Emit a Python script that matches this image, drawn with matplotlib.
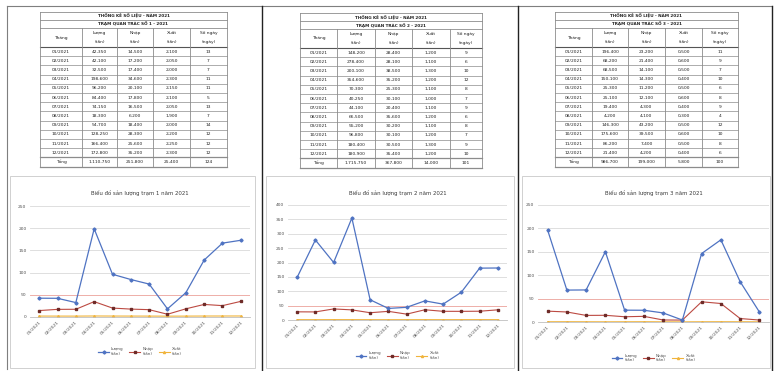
import matplotlib
matplotlib.use("Agg")
import matplotlib.pyplot as plt
from matplotlib.patches import Rectangle

W, H = 782, 371

months = ["01/2021", "02/2021", "03/2021", "04/2021", "05/2021", "06/2021",
          "07/2021", "08/2021", "09/2021", "10/2021", "11/2021", "12/2021"]

# station 1
luong_1 = [42.35, 42.10, 32.50, 198.60, 96.20, 84.40, 74.15, 18.30, 54.70, 128.25, 166.40, 172.80]
nhap_1 = [14.50, 17.20, 17.40, 34.60, 20.10, 17.80, 16.50, 6.20, 18.40, 28.30, 25.60, 35.20]
xuat_1 = [2.10, 2.05, 2.00, 2.30, 2.15, 2.10, 2.05, 1.90, 2.00, 2.20, 2.25, 2.30]
ngay_1 = [13, 7, 7, 11, 11, 5, 13, 7, 14, 12, 12, 12]

# station 2
luong_2 = [148.20, 278.40, 200.10, 354.60, 70.30, 40.25, 44.10, 66.50, 55.20, 96.80, 180.40, 180.90]
nhap_2 = [28.40, 28.10, 38.50, 35.20, 25.30, 30.10, 20.40, 35.60, 30.20, 30.10, 30.50, 35.40]
xuat_2 = [1.20, 1.10, 1.30, 1.20, 1.10, 1.00, 1.10, 1.20, 1.10, 1.20, 1.30, 1.20]
ngay_2 = [9, 6, 10, 12, 8, 7, 9, 6, 8, 7, 9, 10]

# station 3
luong_3 = [196.40, 68.20, 68.50, 150.10, 25.30, 25.10, 19.40, 4.20, 146.30, 175.60, 86.20, 21.40]
nhap_3 = [23.20, 21.40, 14.10, 14.30, 11.20, 12.10, 4.30, 4.10, 43.20, 39.50, 7.40, 4.20]
xuat_3 = [0.50, 0.60, 0.50, 0.40, 0.50, 0.60, 0.40, 0.30, 0.50, 0.60, 0.50, 0.40]
ngay_3 = [11, 9, 7, 10, 6, 8, 9, 4, 12, 10, 8, 6]

series_names = ["Lượng\n(tấn)", "Nhập\n(tấn)", "Xuất\n(tấn)"]
col_headers = ["Tháng", "Lượng\n(tấn)", "Nhập\n(tấn)", "Xuất\n(tấn)", "Số ngày\n(ngày)"]
chart_titles = ["Biểu đồ sản lượng trạm 1 năm 2021",
                "Biểu đồ sản lượng trạm 2 năm 2021",
                "Biểu đồ sản lượng trạm 3 năm 2021"]
table_titles = [("THỐNG KÊ SỐ LIỆU - NĂM 2021", "TRẠM QUAN TRẮC SỐ 1 - 2021"),
                ("THỐNG KÊ SỐ LIỆU - NĂM 2021", "TRẠM QUAN TRẮC SỐ 2 - 2021"),
                ("THỐNG KÊ SỐ LIỆU - NĂM 2021", "TRẠM QUAN TRẮC SỐ 3 - 2021")]

BLUE = "#4F73C2"
RED = "#BC4A42"
YELLOW = "#F0B43C"
PINK = "#F2A7A0"
GRID = "#D9D9D9"
TXT = "#505050"

plt.rcParams["font.family"] = ["DejaVu Sans"]

fig = plt.figure(figsize=(W / 100, H / 100), dpi=100)
fig.patch.set_facecolor("white")

# full-figure canvas in pixel units for the frame and the tables
bg = fig.add_axes([0, 0, 1, 1])
bg.set_xlim(0, W)
bg.set_ylim(H, 0)
bg.axis("off")


def fmt(v):
    return f"{v:,.3f}".replace(",", " ").replace(".", ",").replace(" ", ".")


def draw_table(x_edges, y0, titles, luong, nhap, xuat, ngay):
    x0, x1 = x_edges[0], x_edges[-1]
    title_h, head_h, row_h = 8, 19, 9.2
    fs = 3.2
    lc = "#8C8C8C"
    y = y0
    for t in titles:
        bg.text((x0 + x1) / 2, y + title_h / 2, t, ha="center", va="center",
                fontsize=3.0, color="#222222", fontweight="bold")
        bg.plot([x0, x1], [y + title_h, y + title_h], color=lc, lw=0.6)
        y += title_h
    # header block
    for i, h in enumerate(col_headers):
        bg.text((x_edges[i] + x_edges[i + 1]) / 2, y + head_h / 2, h, ha="center",
                va="center", fontsize=fs, color="#222222", linespacing=2.4)
    bg.plot([x0, x1], [y + head_h, y + head_h], color="#555555", lw=0.8)
    y_head = y
    y += head_h
    rows = [[m, fmt(a), fmt(b), fmt(c), str(d)]
            for m, a, b, c, d in zip(months, luong, nhap, xuat, ngay)]
    rows.append(["Tổng", fmt(sum(luong)), fmt(sum(nhap)), fmt(sum(xuat)), str(sum(ngay))])
    for r, row in enumerate(rows):
        for i, cell in enumerate(row):
            bg.text((x_edges[i] + x_edges[i + 1]) / 2, y + row_h / 2, cell,
                    ha="center", va="center", fontsize=fs, color="#222222")
        lw = 0.9 if r >= len(rows) - 2 else 0.5
        bg.plot([x0, x1], [y + row_h, y + row_h], color=lc, lw=lw)
        y += row_h
    for xe in x_edges:
        bg.plot([xe, xe], [y_head, y], color=lc, lw=0.6)
    bg.plot([x0, x0], [y0, y_head], color=lc, lw=0.6)
    bg.plot([x1, x1], [y0, y_head], color=lc, lw=0.6)
    bg.plot([x0, x1], [y0, y0], color=lc, lw=0.6)


def draw_chart(rect, ymax, title, luong, nhap, xuat, frame, title_y):
    l, t, r, b = rect
    ax = fig.add_axes([l / W, 1 - b / H, (r - l) / W, (b - t) / H])
    x = range(len(months))
    ax.plot(x, luong, color=BLUE, lw=0.9, marker="D", ms=1.6, label=series_names[0], zorder=4)
    ax.plot(x, nhap, color=RED, lw=0.8, marker="s", ms=2.0, mfc="#6E2B28",
            mec="#6E2B28", label=series_names[1], zorder=3)
    ax.plot(x, xuat, color=YELLOW, lw=0.8, marker="^", ms=1.5, label=series_names[2], zorder=2)
    ax.axhline(50, color=PINK, lw=0.6, zorder=1)
    ax.set_xlim(-0.5, len(months) - 0.5)
    ax.set_ylim(0, ymax)
    ax.set_yticks(range(0, ymax + 1, 50))
    ax.yaxis.grid(True, color=GRID, lw=0.6)
    ax.set_axisbelow(True)
    for s in ["top", "right", "left"]:
        ax.spines[s].set_visible(False)
    ax.spines["bottom"].set_color("#BFBFBF")
    ax.spines["bottom"].set_linewidth(0.6)
    ax.set_xticks(list(x))
    ax.set_xticklabels(months, rotation=45, ha="right", rotation_mode="anchor")
    ax.tick_params(axis="both", labelsize=3.2, colors=TXT, length=0, pad=2.5)
    ax.patch.set_alpha(0)
    leg = ax.legend(loc="upper center", bbox_to_anchor=(0.5, -0.24), ncol=3,
                    fontsize=3.0, frameon=False, handlelength=2.6, columnspacing=1.4,
                    handletextpad=0.5)
    for txt in leg.get_texts():
        txt.set_color(TXT)
    fx0, fy0, fx1, fy1 = frame
    bg.add_patch(Rectangle((fx0, fy0), fx1 - fx0, fy1 - fy0, fill=False,
                           ec="#D0D0D0", lw=0.7))
    bg.text((l + r) / 2, title_y, title, ha="center", va="center",
            fontsize=3.9, color="#3A3A3A")
    return ax


# outer panel frame
bg.plot([7, 772], [6, 6], color="#7F7F7F", lw=0.8)
bg.plot([7, 7], [6, 369], color="#7F7F7F", lw=0.8)
for xv in [262, 518, 772]:
    bg.plot([xv, xv], [6, 371], color="#222222", lw=1.0)

draw_table([40, 82, 117, 153, 190, 227], 12, table_titles[0], luong_1, nhap_1, xuat_1, ngay_1)
draw_table([300, 337, 375, 412, 450, 482], 13, table_titles[1], luong_2, nhap_2, xuat_2, ngay_2)
draw_table([555, 592, 628, 665, 702, 738], 12, table_titles[2], luong_3, nhap_3, xuat_3, ngay_3)

draw_chart((30, 206, 250, 317), 250, chart_titles[0], luong_1, nhap_1, xuat_1,
           (10, 176, 255, 368), 193)
draw_chart((288, 205, 507, 320), 400, chart_titles[1], luong_2, nhap_2, xuat_2,
           (266, 176, 514, 368), 193)
draw_chart((538, 205, 769, 322), 250, chart_titles[2], luong_3, nhap_3, xuat_3,
           (522, 176, 770, 368), 193)

fig.savefig("out.png", dpi=100)
